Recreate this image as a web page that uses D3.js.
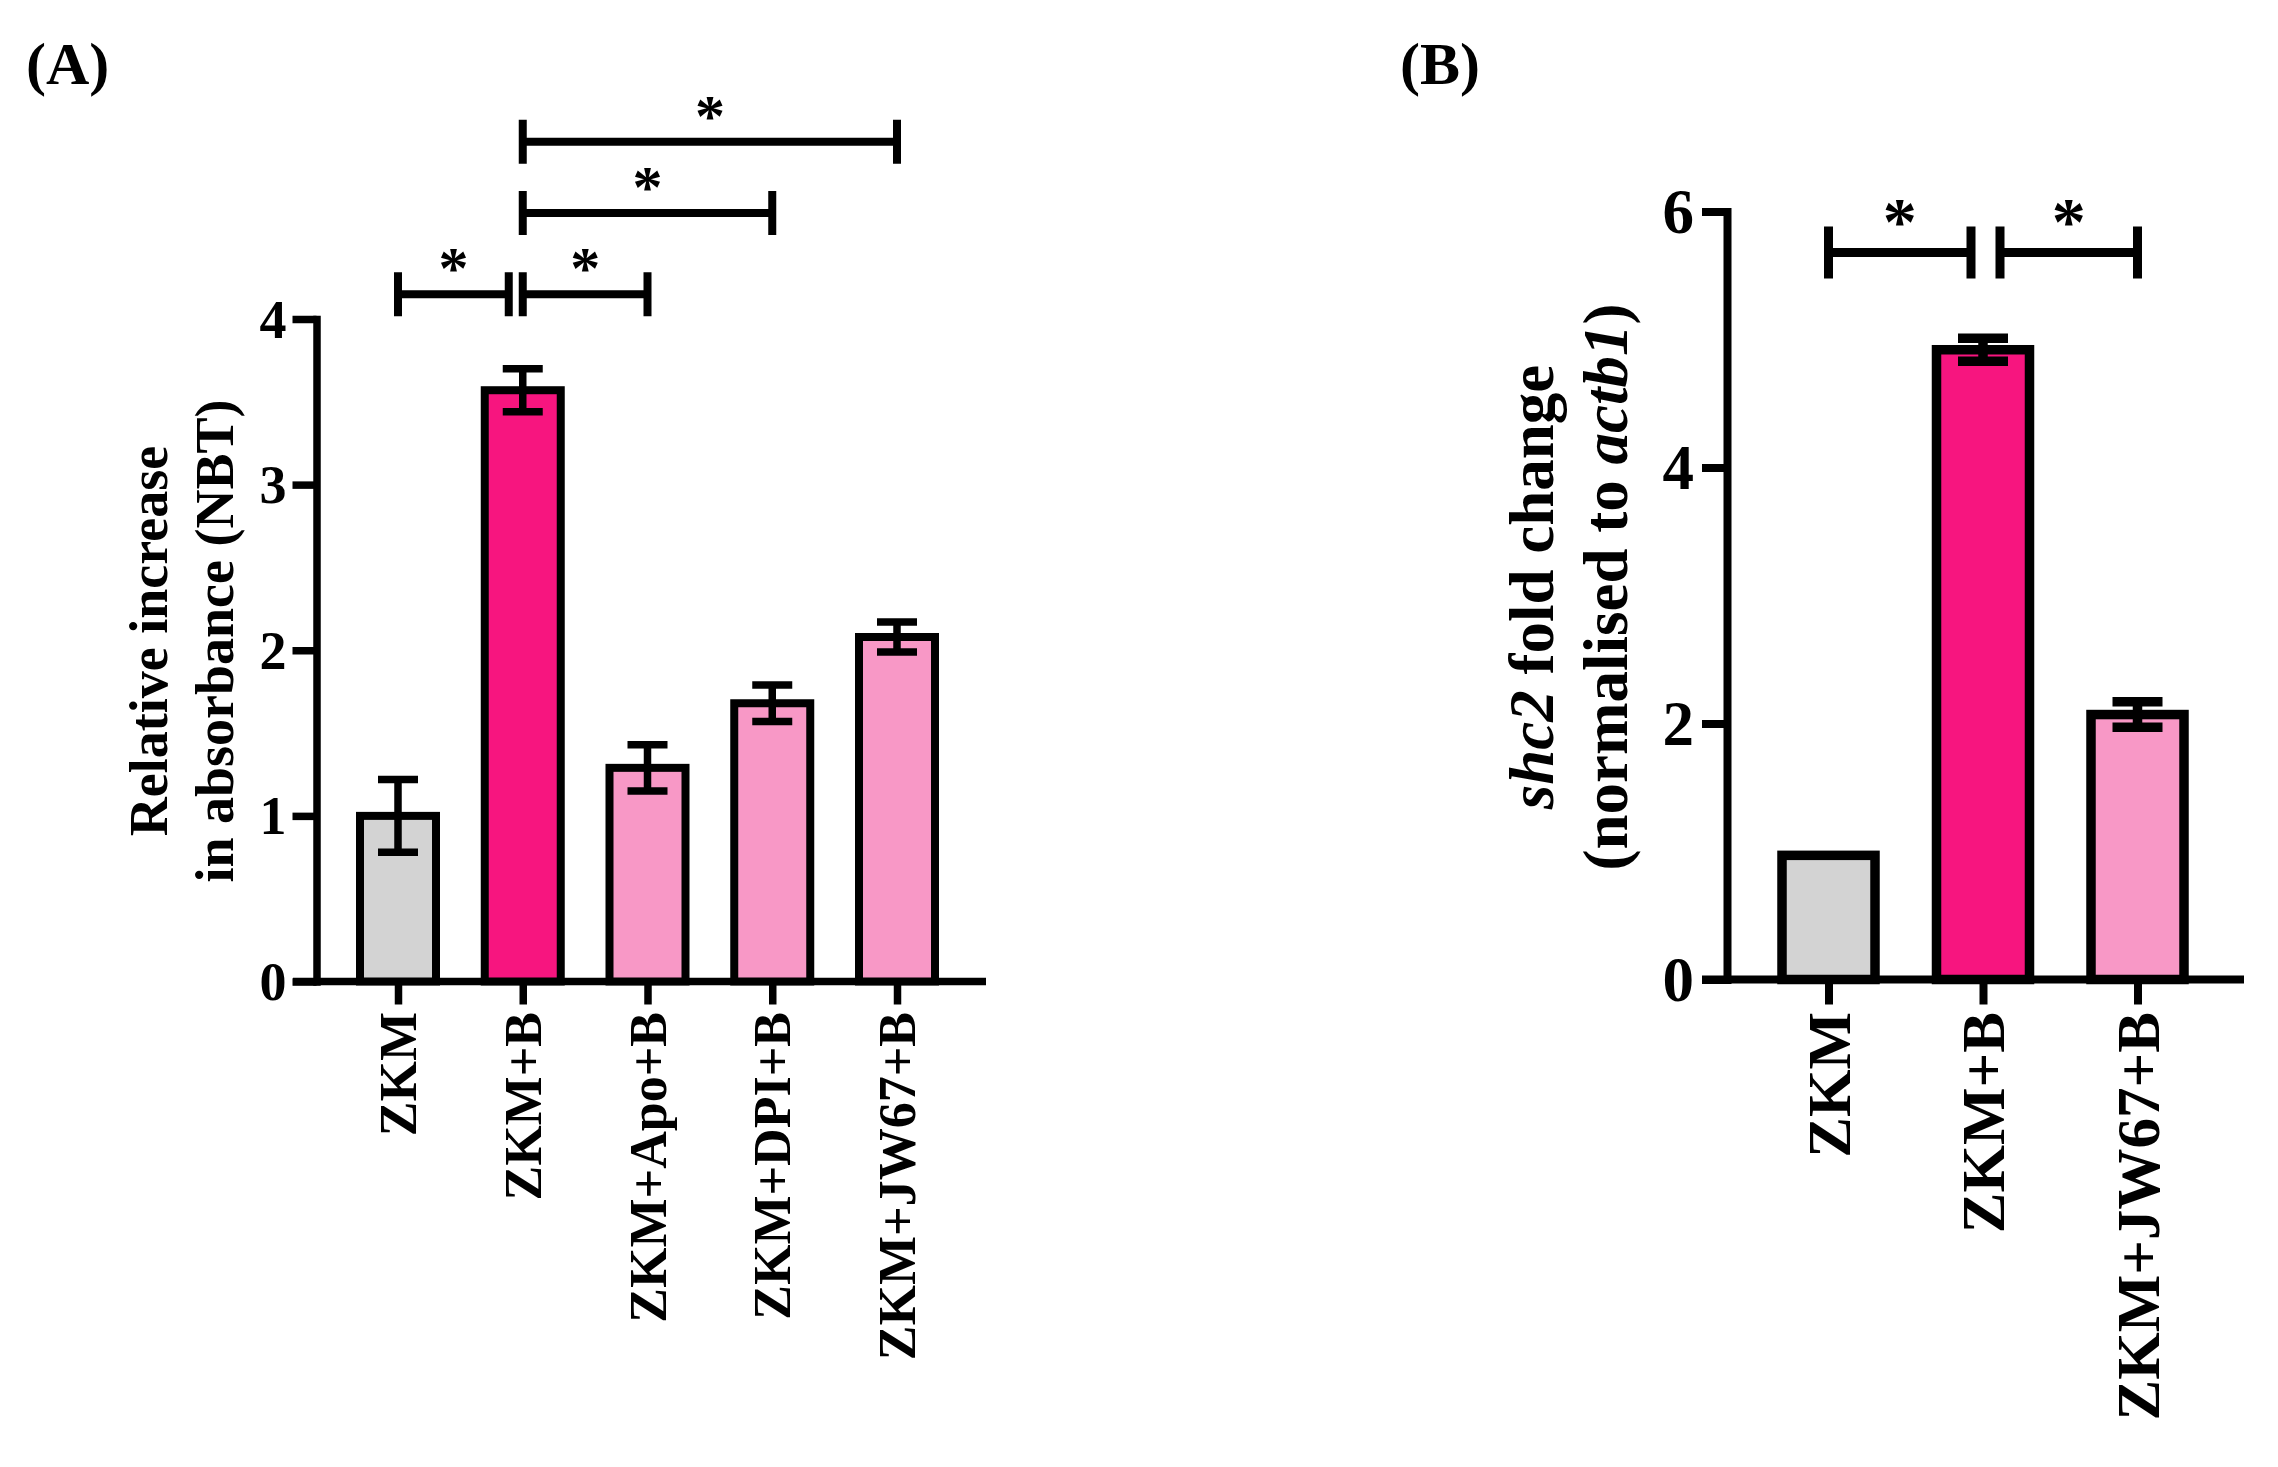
<!DOCTYPE html>
<html>
<head>
<meta charset="utf-8">
<script src="https://cdn.jsdelivr.net/npm/d3@7"></script>
<style>
  body { margin: 0; background: #fff; }
  svg text { font-family: "Liberation Serif", "Times New Roman", serif; font-weight: bold; fill: #000; }
</style>
</head>
<body>
<svg id="chart" width="2278" height="1467"></svg>
<script>
// ===== DATA =====
// (A) NBT assay
const categoriesA = ["ZKM", "ZKM+B", "ZKM+Apo+B", "ZKM+DPI+B", "ZKM+JW67+B"];
const meansA = [1.0, 3.57, 1.29, 1.68, 2.08];
const errorsA = [0.22, 0.13, 0.14, 0.11, 0.09];
const ticksA = [0, 1, 2, 3, 4];
// significance brackets: [from, to, level]
const bracketsA = [
  ["ZKM", "ZKM+B", 4.15],
  ["ZKM+B", "ZKM+Apo+B", 4.15],
  ["ZKM+B", "ZKM+DPI+B", 4.64],
  ["ZKM+B", "ZKM+JW67+B", 5.07]
];

// (B) shc2 qPCR
const categoriesB = ["ZKM", "ZKM+B", "ZKM+JW67+B"];
const meansB = [0.97, 4.92, 2.07];
const errorsB = [0, 0.09, 0.1];
const ticksB = [0, 2, 4, 6];
const bracketsB = [
  ["ZKM", "ZKM+B", 5.68],
  ["ZKM+B", "ZKM+JW67+B", 5.68]
];

// bar colours: control grey, infection hot pink, treatments light pink
function barColor(i) {
  if (i === 0) return "#d3d3d3";
  if (i === 1) return "#f7157f";
  return "#f898c6";
}

const svg = d3.select("#chart");

function drawPanel(cfg) {
  const g = svg.append("g");
  const x = d3.scalePoint().domain(cfg.categories).range(cfg.xRange);
  const y = d3.scaleLinear().domain(cfg.yDomain).range(cfg.yRange);
  const y0 = y(0);

  // x baseline (runs out to the left under the 0 tick)
  g.append("line")
    .attr("x1", cfg.baseLeft)
    .attr("x2", cfg.baseRight)
    .attr("y1", y0)
    .attr("y2", y0)
    .attr("stroke", "#000")
    .attr("stroke-width", cfg.axisW);

  // y axis
  const yAxis = g.append("g")
    .attr("transform", `translate(${cfg.axisX},0)`)
    .call(d3.axisLeft(y).tickValues(cfg.ticks).tickFormat(d3.format("d"))
      .tickSize(cfg.tickLen).tickSizeOuter(0).tickPadding(cfg.tickPad));
  yAxis.select(".domain")
    .attr("stroke-width", cfg.axisW)
    .attr("stroke-linecap", "square");
  yAxis.selectAll(".tick line").attr("stroke-width", cfg.axisW);
  yAxis.selectAll(".tick text")
    .attr("dy", null)
    .attr("dominant-baseline", "central")
    .style("font-size", cfg.tickFont + "px");
  yAxis.attr("font-family", null).attr("font-size", null);

  // x axis ticks + rotated labels
  const xAxis = g.append("g")
    .attr("transform", `translate(0,${y0})`)
    .call(d3.axisBottom(x).tickSize(cfg.xTickLen).tickSizeOuter(0));
  xAxis.select(".domain").remove();
  xAxis.selectAll(".tick line").attr("stroke-width", cfg.axisW);
  xAxis.attr("font-family", null).attr("font-size", null);
  xAxis.selectAll(".tick text")
    .attr("x", 0)
    .attr("y", 0)
    .attr("dy", null)
    .attr("transform", `translate(0,${cfg.xLabelTop - y0}) rotate(-90)`)
    .attr("text-anchor", "end")
    .attr("dominant-baseline", "central")
    .style("font-size", cfg.xLabelFont + "px");

  // bars
  g.selectAll("rect.bar")
    .data(cfg.means)
    .join("rect")
    .attr("class", "bar")
    .attr("x", (d, i) => x(cfg.categories[i]) - cfg.barW / 2)
    .attr("y", d => y(d))
    .attr("width", cfg.barW)
    .attr("height", d => y0 - y(d))
    .attr("fill", (d, i) => barColor(i))
    .attr("stroke", "#000")
    .attr("stroke-width", cfg.barStroke);

  // error bars
  const errs = cfg.means.map((m, i) => ({ c: cfg.categories[i], m: m, e: cfg.errors[i] }))
    .filter(d => d.e > 0);
  const eb = g.selectAll("g.err").data(errs).join("g").attr("class", "err")
    .attr("stroke", "#000").attr("stroke-width", cfg.errW);
  eb.append("line")
    .attr("x1", d => x(d.c)).attr("x2", d => x(d.c))
    .attr("y1", d => y(d.m - d.e)).attr("y2", d => y(d.m + d.e));
  [1, -1].forEach(s => {
    eb.append("line")
      .attr("x1", d => x(d.c) - cfg.capW / 2).attr("x2", d => x(d.c) + cfg.capW / 2)
      .attr("y1", d => y(d.m + s * d.e)).attr("y2", d => y(d.m + s * d.e));
  });

  // significance brackets
  const br = g.selectAll("g.bracket").data(cfg.brackets).join("g").attr("class", "bracket");
  function ends(d) {
    let x1 = x(d[0]), x2 = x(d[1]);
    // nudge apart brackets that meet at the same category on the same level
    const touchEnd = cfg.brackets.some(o => o !== d && o[0] === d[1] && o[2] === d[2]);
    const touchStart = cfg.brackets.some(o => o !== d && o[1] === d[0] && o[2] === d[2]);
    if (touchEnd) x2 -= cfg.insetEnd;
    if (touchStart) x1 += cfg.insetStart;
    return [x1, x2];
  }
  br.append("path")
    .attr("d", d => {
      const [x1, x2] = ends(d);
      const yy = y(d[2]);
      const h = cfg.bracketTick;
      return `M${x1},${yy - h}V${yy + h}M${x1},${yy}H${x2}M${x2},${yy - h}V${yy + h}`;
    })
    .attr("fill", "none")
    .attr("stroke", "#000")
    .attr("stroke-width", cfg.bracketW);
  br.append("text")
    .attr("x", d => { const e = ends(d); return (e[0] + e[1]) / 2; })
    .attr("y", d => y(d[2]) - cfg.starLift)
    .attr("text-anchor", "middle")
    .style("font-size", cfg.starFont + "px")
    .text("*");

  // y axis title (two lines, rotated)
  const title = g.append("text")
    .attr("transform", `translate(${cfg.titleX},${cfg.titleY}) rotate(-90)`)
    .attr("text-anchor", "middle")
    .style("font-size", cfg.titleFont + "px");
  cfg.titleLines.forEach((parts, li) => {
    const line = title.append("tspan").attr("x", 0).attr("y", li * cfg.titleGap);
    parts.forEach(p => {
      line.append("tspan")
        .attr("font-style", p.italic ? "italic" : null)
        .text(p.t);
    });
  });

  // panel letter
  g.append("text")
    .attr("x", cfg.letterX)
    .attr("y", cfg.letterY)
    .style("font-size", "60px")
    .text(cfg.letter);
}

drawPanel({
  letter: "(A)", letterX: 26, letterY: 84,
  categories: categoriesA, means: meansA, errors: errorsA, ticks: ticksA, brackets: bracketsA,
  xRange: [398, 897], yDomain: [0, 4], yRange: [981.5, 319],
  axisX: 316.5, baseLeft: 293, baseRight: 986, axisW: 7.5,
  tickLen: 24, tickPad: 6, tickFont: 54,
  xTickLen: 23, xLabelTop: 1012, xLabelFont: 52,
  barW: 76, barStroke: 8, errW: 7.5, capW: 40,
  bracketTick: 22, bracketW: 8, insetEnd: 14, insetStart: 0,
  starFont: 60, starLift: 6,
  titleX: 167, titleY: 641, titleGap: 66, titleFont: 54,
  titleLines: [
    [{ t: "Relative increase" }],
    [{ t: "in absorbance (NBT)" }]
  ]
});

drawPanel({
  letter: "(B)", letterX: 1400, letterY: 84,
  categories: categoriesB, means: meansB, errors: errorsB, ticks: ticksB, brackets: bracketsB,
  xRange: [1828.5, 2137.5], yDomain: [0, 6], yRange: [979.5, 211.5],
  axisX: 1727, baseLeft: 1702, baseRight: 2244, axisW: 8,
  tickLen: 25, tickPad: 8, tickFont: 63,
  xTickLen: 25, xLabelTop: 1012, xLabelFont: 61,
  barW: 93, barStroke: 9.5, errW: 9.5, capW: 50,
  bracketTick: 26, bracketW: 9, insetEnd: 12, insetStart: 17,
  starFont: 68, starLift: 8,
  titleX: 1553, titleY: 587, titleGap: 74, titleFont: 63,
  titleLines: [
    [{ t: "shc2", italic: true }, { t: " fold change" }],
    [{ t: "(normalised to " }, { t: "actb1", italic: true }, { t: ")" }]
  ]
});
</script>
</body>
</html>
